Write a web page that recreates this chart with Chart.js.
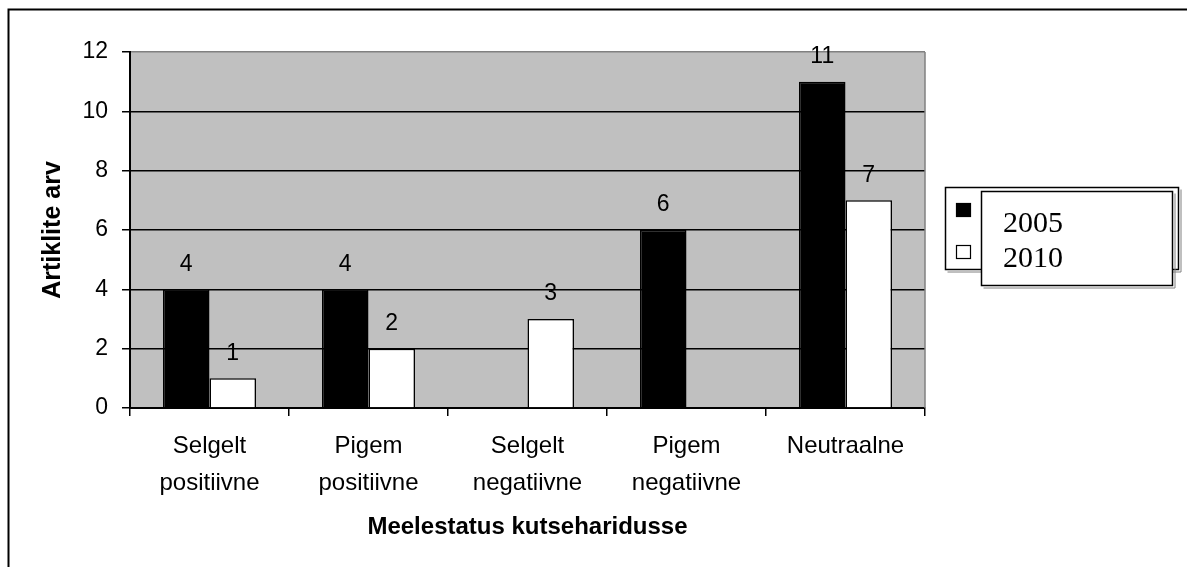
<!DOCTYPE html>
<html lang="et">
<head>
  <meta charset="UTF-8">
  <title>Meelestatus kutseharidusse</title>
  <script src="https://cdn.jsdelivr.net/npm/chart.js"></script>
  <style>
    html, body { margin: 0; padding: 0; background: #fff; }
    #wrap { width: 1187px; height: 567px; }
  </style>
</head>
<body>
  <div id="wrap"><canvas id="chart" width="1187" height="567"></canvas></div>

  <script>
    // data
    const categories = [["Selgelt", "positiivne"], ["Pigem", "positiivne"], ["Selgelt", "negatiivne"], ["Pigem", "negatiivne"], ["Neutraalne"]];
    const seriesNames = ["2005", "2010"];
    const values2005 = [4, 4, null, 6, 11];
    const values2010 = [1, 2, 3, null, 7];
    const yTicks = [0, 2, 4, 6, 8, 10, 12];

    const plotGray = '#c0c0c0';
    const edgeGray = '#808080';

    // gray plot area + outer frame of the picture
    const plotBackground = {
      id: 'plotBackground',
      beforeDraw(chart) {
        const { ctx, chartArea: a } = chart;
        ctx.save();
        ctx.fillStyle = plotGray;
        ctx.fillRect(a.left, a.top, a.right - a.left, a.bottom - a.top);
        ctx.strokeStyle = '#000';
        ctx.lineWidth = 2;
        ctx.beginPath();
        ctx.moveTo(8.5, chart.height + 5);
        ctx.lineTo(8.5, 9.5);
        ctx.lineTo(chart.width + 5, 9.5);
        ctx.stroke();
        ctx.restore();
      },
      beforeDatasetsDraw(chart) {
        const { ctx, chartArea: a } = chart;
        ctx.save();
        ctx.strokeStyle = edgeGray;
        ctx.lineWidth = 1.5;
        ctx.beginPath();
        ctx.moveTo(a.right, a.top);
        ctx.lineTo(a.right, a.bottom);
        ctx.stroke();
        ctx.restore();
      }
    };

    // value labels above the bars
    const valueLabels = {
      id: 'valueLabels',
      afterDatasetsDraw(chart) {
        const ctx = chart.ctx;
        ctx.save();
        ctx.font = '23px "Liberation Sans", Arial, sans-serif';
        ctx.fillStyle = '#000';
        ctx.textAlign = 'center';
        ctx.textBaseline = 'middle';
        chart.data.datasets.forEach((ds, i) => {
          chart.getDatasetMeta(i).data.forEach((bar, j) => {
            const v = ds.data[j];
            if (v === null || v === undefined) return;
            ctx.fillText(String(v), bar.x, bar.y - 25);
          });
        });
        ctx.restore();
      }
    };

    // the odd double legend box on the right
    function framedBox(ctx, x, y, w, h) {
      ctx.strokeStyle = edgeGray;
      ctx.lineWidth = 1;
      ctx.beginPath();
      ctx.moveTo(x + w + 2.5, y + 2);
      ctx.lineTo(x + w + 2.5, y + h + 2.5);
      ctx.lineTo(x + 2, y + h + 2.5);
      ctx.stroke();
      ctx.fillStyle = '#fff';
      ctx.fillRect(x, y, w, h);
      ctx.strokeStyle = '#000';
      ctx.lineWidth = 1.5;
      ctx.strokeRect(x, y, w, h);
    }

    const boxLegend = {
      id: 'boxLegend',
      afterDraw(chart) {
        const ctx = chart.ctx;
        const sets = chart.data.datasets;
        ctx.save();
        framedBox(ctx, 945.5, 187.5, 233, 82);
        sets.forEach((ds, i) => {
          const y = 203 + i * 42;
          ctx.fillStyle = ds.backgroundColor;
          ctx.fillRect(956, y, 15, 14);
          ctx.strokeStyle = '#000';
          ctx.lineWidth = 1.2;
          ctx.strokeRect(956.5, y + 0.5, 14, 13);
        });
        framedBox(ctx, 981.5, 191.5, 191, 94);
        ctx.fillStyle = '#000';
        ctx.font = '30px "Liberation Serif", "Times New Roman", serif';
        ctx.textAlign = 'left';
        ctx.textBaseline = 'alphabetic';
        sets.forEach((ds, i) => {
          ctx.fillText(ds.label, 1003, 232 + i * 35);
        });
        ctx.restore();
      }
    };

    const ctx = document.getElementById('chart').getContext('2d');
    new Chart(ctx, {
      type: 'bar',
      data: {
        labels: categories,
        datasets: [{
          label: seriesNames[0],
          data: values2005,
          backgroundColor: '#000000',
          borderColor: '#000000',
          borderWidth: 1.5
        }, {
          label: seriesNames[1],
          data: values2010,
          backgroundColor: '#ffffff',
          borderColor: '#000000',
          borderWidth: 1.5
        }]
      },
      options: {
        responsive: false,
        animation: false,
        devicePixelRatio: 1,
        layout: { padding: { left: 0, top: 52, right: 262, bottom: 0 } },
        datasets: {
          bar: { barPercentage: 1, categoryPercentage: 0.585 }
        },
        plugins: {
          legend: { display: false },
          tooltip: { enabled: false }
        },
        scales: {
          x: {
            grid: {
              offset: true,
              drawOnChartArea: false,
              drawTicks: true,
              tickLength: 8,
              tickColor: '#000',
              lineWidth: 1.5
            },
            border: { display: true, color: '#000', width: 2 },
            ticks: {
              color: '#000',
              padding: 12,
              maxRotation: 0,
              autoSkip: false,
              font: { family: '"Liberation Sans", Arial, sans-serif', size: 24, lineHeight: '37px' }
            },
            title: {
              display: true,
              text: 'Meelestatus kutseharidusse',
              color: '#000',
              padding: { top: 0, bottom: 25 },
              font: { family: '"Liberation Sans", Arial, sans-serif', size: 24, weight: 'bold' }
            },
            afterFit(scale) { scale.height = 159; }
          },
          y: {
            min: 0,
            max: 12,
            afterBuildTicks(scale) { scale.ticks = yTicks.map(v => ({ value: v })); },
            grid: {
              color: c => (c.tick && c.tick.value === 12 ? edgeGray : '#000'),
              tickColor: '#000',
              lineWidth: 1.5,
              tickLength: 8
            },
            border: { display: true, color: '#000', width: 2 },
            ticks: {
              color: '#000',
              padding: 14,
              font: { family: '"Liberation Sans", Arial, sans-serif', size: 23 }
            },
            title: {
              display: true,
              text: 'Artiklite arv',
              color: '#000',
              padding: { top: 38, bottom: 0 },
              font: { family: '"Liberation Sans", Arial, sans-serif', size: 25, weight: 'bold' }
            },
            afterFit(scale) { scale.width = 130; }
          }
        }
      },
      plugins: [plotBackground, valueLabels, boxLegend]
    });
  </script>
</body>
</html>
